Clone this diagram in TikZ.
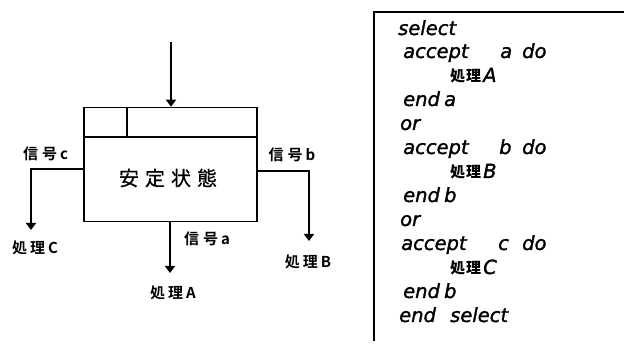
\documentclass[tikz,border=0pt]{standalone}
\usepackage{fontspec}
\usetikzlibrary{arrows.meta}
\newfontfamily\cjk{Noto Sans CJK JP}[BoldFont={Noto Sans CJK JP Bold}]
\newfontfamily\cjkm{Noto Sans CJK JP}[FakeBold=0.6]
\newfontfamily\codefont{DejaVu Sans}[ItalicFeatures={FakeBold=1.5},UprightFeatures={FakeBold=1.5}]
\newcommand{\shori}{{\cjk\bfseries\fontsize{15}{15}\selectfont 処\hspace{1pt}理\hspace{2pt}}}
\begin{document}
\begin{tikzpicture}[x=1pt,y=-1pt,
  ln/.style={line width=1.5pt},
  arr/.style={line width=1.5pt,-{Triangle[length=7pt,width=10pt]}},
  lbl/.style={font=\cjk\bfseries\fontsize{15}{15}\selectfont,inner sep=0pt},
  code/.style={font=\codefont\itshape\fontsize{19.5}{19.5}\selectfont,anchor=base west,inner sep=0pt}]
\useasboundingbox (0,0) rectangle (624,347);
% state box
\node[ln,draw,minimum width=173pt,minimum height=114pt,inner sep=0pt] (state) at (170.5,164.5) {};
\coordinate (divL) at (84,137);
\coordinate (divR) at (257,137);
\draw[ln] (divL) -- (divR);
\coordinate (vtop) at (127,107.5);
\draw[ln] (vtop) -- (vtop |- divL);
\node[font=\cjkm\fontsize{20}{20}\selectfont,inner sep=0pt] (stxt) at (168,178) {安\hspace{6pt}定\hspace{6pt}状\hspace{6pt}態};
% top arrow
\coordinate (topin) at (171,42);
\draw[arr] (topin) -- (topin |- state.north);
% left
\coordinate (lstart) at (84,169);
\coordinate (lend) at (31,230);
\draw[arr] (lstart) -| (lend);
\node[lbl] (sc) at (45.5,154) {信\hspace{4pt}号\hspace{3pt}c};
\node[lbl] (pc) at (35,248) {処\hspace{3pt}理\hspace{3pt}C};
% right
\coordinate (rstart) at (257,171);
\coordinate (rend) at (309,241);
\draw[arr] (rstart) -| (rend);
\node[lbl] (sb) at (292,155) {信\hspace{4pt}号\hspace{3pt}b};
\node[lbl] (pb) at (308,262) {処\hspace{3pt}理\hspace{3pt}B};
% bottom
\coordinate (bstart) at (170,221);
\coordinate (bend) at (170,273);
\draw[arr] (bstart) -- (bend);
\node[lbl] (sa) at (207,239) {信\hspace{4pt}号\hspace{3pt}a};
\node[lbl] (pa) at (173,293) {処\hspace{3pt}理\hspace{3pt}A};
% code frame
\coordinate (fb) at (374,341);
\coordinate (ft) at (374,12);
\coordinate (fr) at (624,12);
\draw[ln] (fb) -- (ft) -- (fr);
% code
\node[code] (c1) at (398,35) {select};
\node[code] (c2a) at (403,58) {accept};
\node[code] (c2b) at (500,58) {a};
\node[code] (c2c) at (522,58) {do};
\node[code] (c3) at (450,82) {\shori A};
\node[code] (c4) at (403,106) {end\hspace{-2pt} a};
\node[code] (c5) at (400,130) {or};
\node[code] (c6a) at (403,154) {accept};
\node[code] (c6b) at (499,154) {b};
\node[code] (c6c) at (522,154) {do};
\node[code] (c7) at (450,178) {\shori B};
\node[code] (c8) at (403,202) {end\hspace{-2pt} b};
\node[code] (c9) at (400,226) {or};
\node[code] (c10a) at (401,250) {accept};
\node[code] (c10b) at (498,250) {c};
\node[code] (c10c) at (522,250) {do};
\node[code] (c11) at (450,274) {\shori C};
\node[code] (c12) at (403,298) {end\hspace{-2pt} b};
\node[code] (c13a) at (399,322) {end};
\node[code] (c13b) at (450,322) {select};
\end{tikzpicture}
\end{document}
